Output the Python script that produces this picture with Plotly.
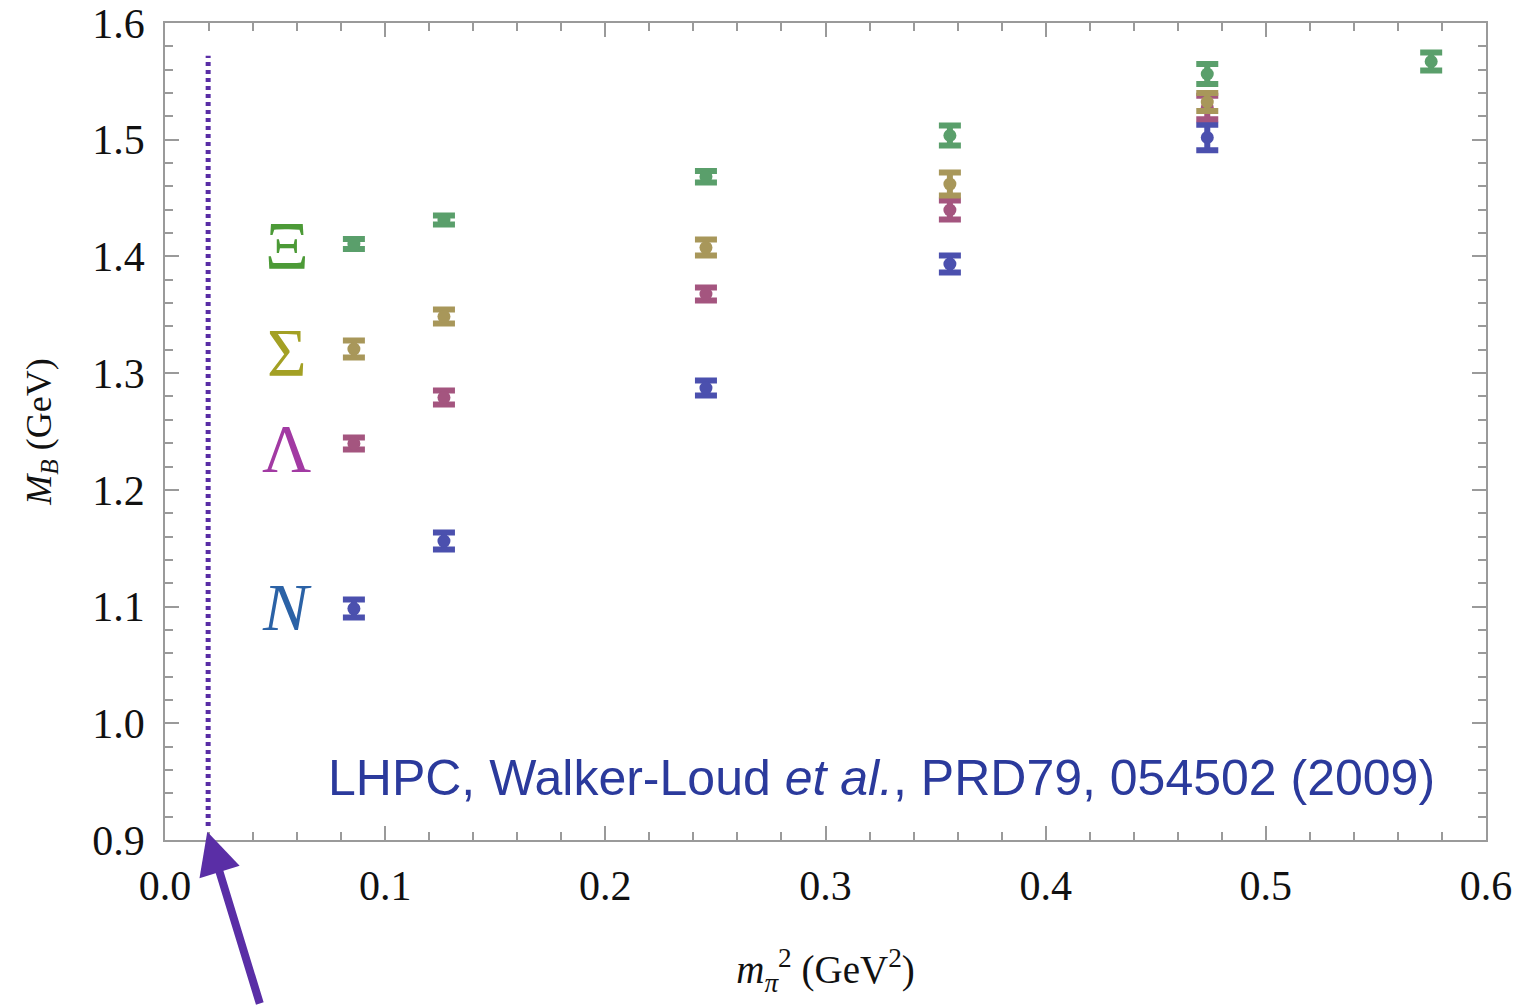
import plotly.graph_objects as go

# ---- data ----
x_pts = [0.0858, 0.1267, 0.2457, 0.3565, 0.4734]
x_xi = [0.0858, 0.1267, 0.2457, 0.3565, 0.4734, 0.5751]

m_N = [1.0983, 1.1561, 1.2872, 1.3935, 1.5019]
e_N = [0.0077, 0.0073, 0.0064, 0.0073, 0.0110]
m_L = [1.2397, 1.2791, 1.3678, 1.4398, 1.5276]
e_L = [0.0051, 0.0060, 0.0056, 0.0081, 0.0100]
m_S = [1.3207, 1.3485, 1.4076, 1.4620, 1.5323]
e_S = [0.0073, 0.0060, 0.0069, 0.0099, 0.0077]
m_X = [1.4106, 1.4312, 1.4683, 1.5036, 1.5563, 1.5670]
e_X = [0.0043, 0.0039, 0.0050, 0.0086, 0.0086, 0.0077]

phys_mpi2 = 0.0196
line_y = [0.912, 1.572]

labels = ["N", "Λ", "Σ", "Ξ"]
label_y = [1.100, 1.236, 1.318, 1.410]
label_x = 0.0554

pt_colors = ["#4b50ae", "#a4557f", "#a8975a", "#5a9f6b"]
lab_colors = ["#2b62a6", "#a23aa3", "#a3a024", "#4c9a37"]

x_ticks = [0.0, 0.1, 0.2, 0.3, 0.4, 0.5, 0.6]
x_ticktext = ["0.0", "0.1", "0.2", "0.3", "0.4", "0.5", "0.6"]
y_ticks = [0.9, 1.0, 1.1, 1.2, 1.3, 1.4, 1.5, 1.6]
y_ticktext = ["0.9", "1.0", "1.1", "1.2", "1.3", "1.4", "1.5", "1.6"]

citation = "LHPC, Walker-Loud <i>et al.</i>, PRD79, 054502 (2009)"

fig = go.Figure()

fig.add_trace(go.Scatter(
    x=[phys_mpi2, phys_mpi2], y=line_y, mode="lines",
    line=dict(color="#5a2ea6", width=5, dash="4px,4px"),
    showlegend=False, hoverinfo="skip"))

series = [(x_pts, m_N, e_N), (x_pts, m_L, e_L), (x_pts, m_S, e_S), (x_xi, m_X, e_X)]
for (xs, ys, es), c in zip(series, pt_colors):
    fig.add_trace(go.Scatter(
        x=xs, y=ys, mode="markers",
        marker=dict(color=c, size=13, symbol="circle", line=dict(width=0)),
        error_y=dict(type="data", array=es, visible=True, color=c,
                     thickness=6, width=11),
        showlegend=False))

for lab, ly, lc in zip(labels, label_y, lab_colors):
    txt = "<i>N</i>" if lab == "N" else lab
    fig.add_annotation(x=label_x, y=ly, xref="x", yref="y", text=txt,
                       showarrow=False, xanchor="center", yanchor="middle",
                       font=dict(family="Liberation Serif", size=68, color=lc))

fig.add_annotation(x=0.963, y=0.953, xref="paper", yref="y", text=citation,
                   showarrow=False, xanchor="right", yanchor="middle",
                   font=dict(family="Liberation Sans", size=50, color="#2b3a9c"))

fig.add_annotation(x=0.0192, y=0.907, xref="x", yref="y", text="",
                   showarrow=True, ax=53, ay=177, axref="pixel", ayref="pixel",
                   arrowhead=2, arrowsize=1.05, arrowwidth=8,
                   arrowcolor="#5a2ea6", standoff=0)

axis_common = dict(
    showgrid=False, zeroline=False, showline=True, linecolor="#9a9a9a",
    linewidth=1.5, mirror="ticks", ticks="inside", tickcolor="#9a9a9a",
    tickwidth=1.5, ticklen=14, automargin=False,
    tickfont=dict(family="Liberation Serif", size=42, color="#111111"),
)

fig.update_xaxes(
    range=[0, 0.6], tickvals=x_ticks, ticktext=x_ticktext,
    minor=dict(ticks="inside", dtick=0.02, ticklen=8, tickcolor="#9a9a9a",
               tickwidth=1.5, showgrid=False),
    ticklabelstandoff=8,
    title=dict(text="<i>m</i><sub><i>π</i></sub><sup>2</sup> (GeV<sup>2</sup>)",
               font=dict(family="Liberation Serif", size=39, color="#111111"),
               standoff=48),
    **axis_common)

fig.update_yaxes(
    range=[0.9, 1.6], tickvals=y_ticks, ticktext=y_ticktext,
    minor=dict(ticks="inside", dtick=0.02, ticklen=8, tickcolor="#9a9a9a",
               tickwidth=1.5, showgrid=False),
    ticklabelstandoff=10,
    title=dict(text="<i>M</i><sub><i>B</i></sub> (GeV)",
               font=dict(family="Liberation Serif", size=36, color="#111111"),
               standoff=30),
    **axis_common)

fig.update_layout(
    width=1521, height=1005,
    margin=dict(l=165, r=35, t=23, b=165),
    paper_bgcolor="white", plot_bgcolor="white",
    showlegend=False,
)

fig.write_html("out.html")
